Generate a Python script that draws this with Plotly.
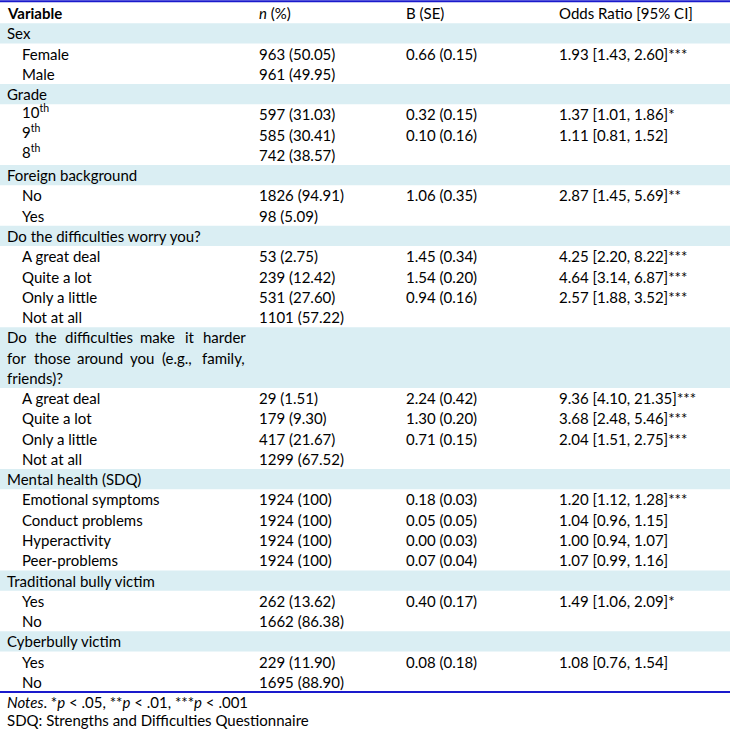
import textwrap
import plotly.graph_objects as go

# ---------------- data ----------------
headers = ["<b>Variable</b>", "<i>n</i> (%)", "B (SE)", "Odds Ratio [95% CI]"]

group_names = [
    "Sex",
    "Grade",
    "Foreign background",
    "Do the difficulties worry you?",
    "Do the difficulties make it harder for those around you (e.g., family, friends)?",
    "Mental health (SDQ)",
    "Traditional bully victim",
    "Cyberbully victim",
]

level_labels = [
    ["Female", "Male"],
    ["10<sup>th</sup>", "9<sup>th</sup>", "8<sup>th</sup>"],
    ["No", "Yes"],
    ["A great deal", "Quite a lot", "Only a little", "Not at all"],
    ["A great deal", "Quite a lot", "Only a little", "Not at all"],
    ["Emotional symptoms", "Conduct problems", "Hyperactivity", "Peer-problems"],
    ["Yes", "No"],
    ["Yes", "No"],
]

n_pct = [
    ["963 (50.05)", "961 (49.95)"],
    ["597 (31.03)", "585 (30.41)", "742 (38.57)"],
    ["1826 (94.91)", "98 (5.09)"],
    ["53 (2.75)", "239 (12.42)", "531 (27.60)", "1101 (57.22)"],
    ["29 (1.51)", "179 (9.30)", "417 (21.67)", "1299 (67.52)"],
    ["1924 (100)", "1924 (100)", "1924 (100)", "1924 (100)"],
    ["262 (13.62)", "1662 (86.38)"],
    ["229 (11.90)", "1695 (88.90)"],
]

b_se = [
    ["0.66 (0.15)", ""],
    ["0.32 (0.15)", "0.10 (0.16)", ""],
    ["1.06 (0.35)", ""],
    ["1.45 (0.34)", "1.54 (0.20)", "0.94 (0.16)", ""],
    ["2.24 (0.42)", "1.30 (0.20)", "0.71 (0.15)", ""],
    ["0.18 (0.03)", "0.05 (0.05)", "0.00 (0.03)", "0.07 (0.04)"],
    ["0.40 (0.17)", ""],
    ["0.08 (0.18)", ""],
]

odds_ratio = [
    ["1.93 [1.43, 2.60]***", ""],
    ["1.37 [1.01, 1.86]*", "1.11 [0.81, 1.52]", ""],
    ["2.87 [1.45, 5.69]**", ""],
    ["4.25 [2.20, 8.22]***", "4.64 [3.14, 6.87]***", "2.57 [1.88, 3.52]***", ""],
    ["9.36 [4.10, 21.35]***", "3.68 [2.48, 5.46]***", "2.04 [1.51, 2.75]***", ""],
    ["1.20 [1.12, 1.28]***", "1.04 [0.96, 1.15]", "1.00 [0.94, 1.07]", "1.07 [0.99, 1.16]"],
    ["1.49 [1.06, 2.09]*", ""],
    ["1.08 [0.76, 1.54]", ""],
]

notes = [
    "<i>Notes</i>. *<i>p</i> &lt; .05, **<i>p</i> &lt; .01, ***<i>p</i> &lt; .001",
    "SDQ: Strengths and Difficulties Questionnaire",
]

# ---------------- layout constants ----------------
W, H = 730, 729
FONT = "Lato"
FS = 15
ROW_H = 20.27
Y0 = 13
COL_X = [5, 257, 404, 557]
COL1_RIGHT = 243          # right edge of justified text in first column
INDENT = 20
BAND = "#DAEEF3"
RULE = "#1A1ACC"
SUP_SHIFT = -3            # compensates the taller box of superscripted labels

# rough glyph advance widths (em) used only to justify the wrapped label
NARROW = {"i": 0.23, "l": 0.23, "j": 0.23, "f": 0.31, "t": 0.33, "r": 0.36,
          "s": 0.40, "(": 0.30, ")": 0.30, ".": 0.24, ",": 0.24, "?": 0.42,
          "m": 0.81, "w": 0.75, "D": 0.70}


def est_width(word):
    return sum(NARROW.get(c, 0.52) for c in word) * FS


ann = []
shapes = []


def add_text(x, y, s):
    if "<sup>" in s:
        y += SUP_SHIFT
    ann.append(dict(x=x, y=y, xref="x", yref="y", text=s, showarrow=False,
                    xanchor="left", yanchor="middle",
                    font=dict(family=FONT, size=FS, color="black")))


def add_justified(x0, x1, y, line):
    words = line.split(" ")
    widths = [est_width(w) for w in words]
    gap = (x1 - x0 - sum(widths)) / (len(words) - 1)
    x = x0
    for w, wd in zip(words, widths):
        add_text(x, y, w)
        x += wd + gap


# header
for cx, h in zip(COL_X, headers):
    add_text(cx, Y0, h)

row = 1
for g, name in enumerate(group_names):
    lines = textwrap.wrap(name, 35)
    top = Y0 + (row - 0.5) * ROW_H
    bot = Y0 + (row + len(lines) - 0.5) * ROW_H
    shapes.append(dict(type="rect", xref="x", yref="y", x0=0, x1=W, y0=top, y1=bot,
                       fillcolor=BAND, line=dict(width=0), layer="below"))
    for k, ln in enumerate(lines):
        y = Y0 + row * ROW_H
        if len(lines) > 1 and k < len(lines) - 1:
            add_justified(COL_X[0], COL1_RIGHT, y, ln)
        else:
            add_text(COL_X[0], y, ln)
        row += 1
    for lab, n, b, o in zip(level_labels[g], n_pct[g], b_se[g], odds_ratio[g]):
        y = Y0 + row * ROW_H
        add_text(INDENT, y, lab)
        add_text(COL_X[1], y, n)
        if b:
            add_text(COL_X[2], y, b)
        if o:
            add_text(COL_X[3], y, o)
        row += 1

bottom_rule = Y0 + (row - 0.5) * ROW_H
shapes.append(dict(type="line", xref="x", yref="y", x0=0, x1=W, y0=1.2, y1=1.2,
                   line=dict(color=RULE, width=2)))
shapes.append(dict(type="line", xref="x", yref="y", x0=0, x1=W, y0=bottom_rule, y1=bottom_rule,
                   line=dict(color=RULE, width=2)))
for i, t in enumerate(notes):
    add_text(COL_X[0], bottom_rule + 10 + i * 18, t)

fig = go.Figure()
fig.update_layout(
    width=W, height=H, margin=dict(l=0, r=0, t=0, b=0),
    paper_bgcolor="white", plot_bgcolor="white",
    xaxis=dict(range=[0, W], visible=False, fixedrange=True),
    yaxis=dict(range=[H, 0], visible=False, fixedrange=True),
    shapes=shapes, annotations=ann, showlegend=False,
)
fig.write_html(
    "out.html",
    config={"displayModeBar": False},
    post_script="document.body.style.margin='0';document.body.style.overflow='hidden';",
)
